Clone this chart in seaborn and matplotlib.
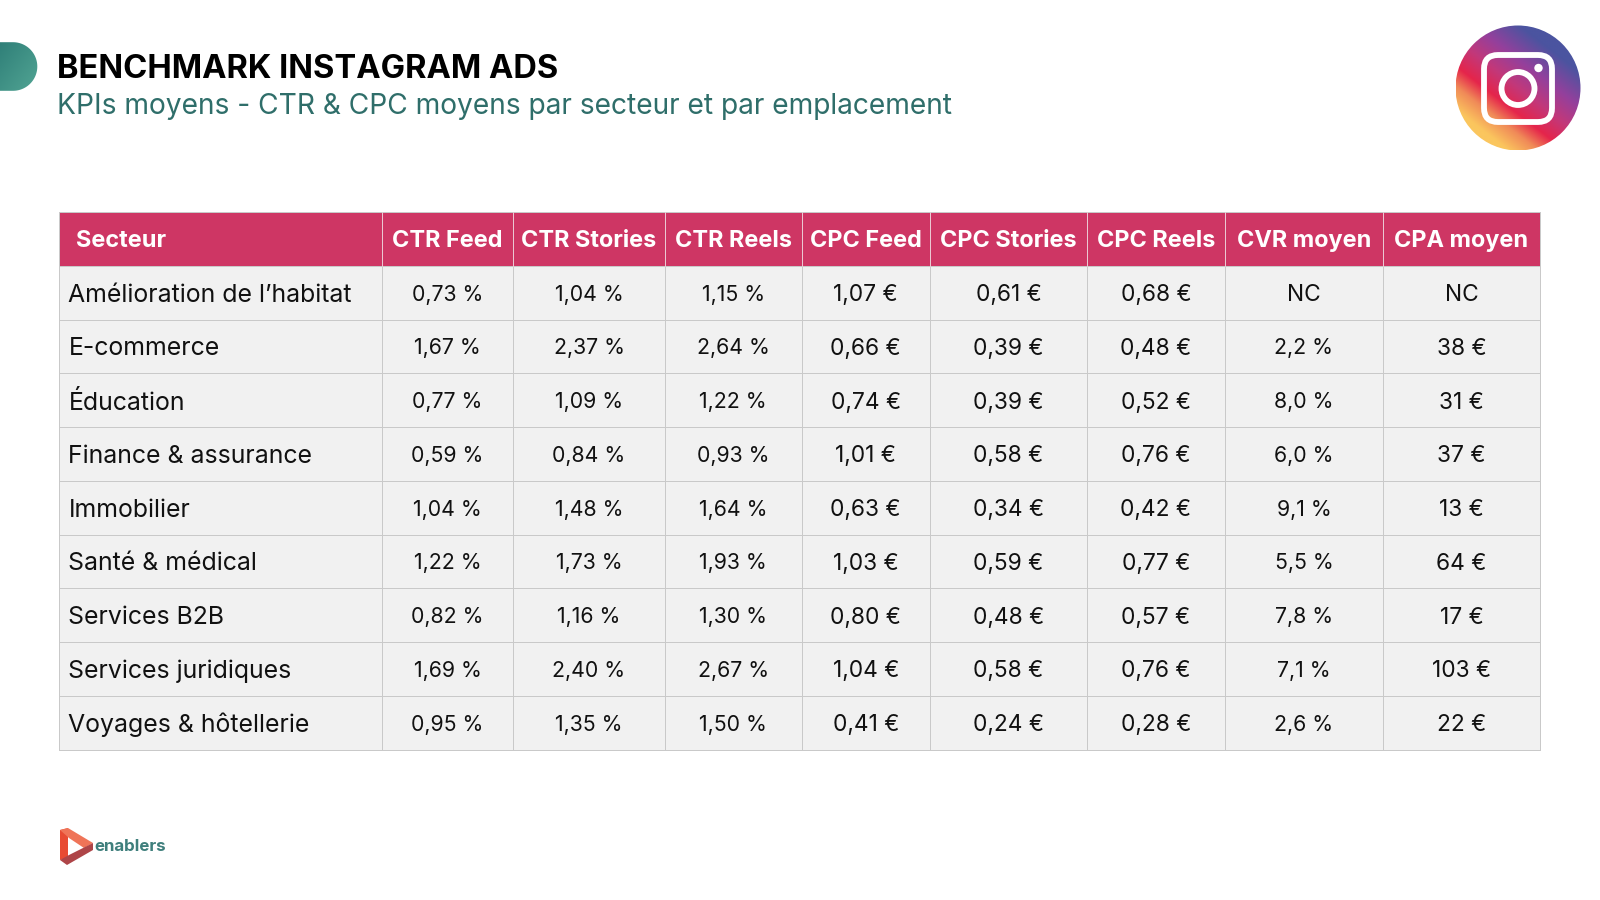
import numpy as np
import pandas as pd
import matplotlib
matplotlib.use("Agg")
import matplotlib.pyplot as plt
from matplotlib.colors import ListedColormap, LinearSegmentedColormap
from matplotlib.patches import Circle, FancyBboxPatch, Polygon
import seaborn as sns

sns.set_theme(style="white")
plt.rcParams["font.family"] = ["Inter", "DejaVu Sans"]

headers = ["Secteur", "CTR Feed", "CTR Stories", "CTR Reels", "CPC Feed",
           "CPC Stories", "CPC Reels", "CVR moyen", "CPA moyen"]
secteurs = ["Amélioration de l’habitat", "E-commerce", "Éducation", "Finance & assurance",
            "Immobilier", "Santé & médical", "Services B2B", "Services juridiques",
            "Voyages & hôtellerie"]
ctr_feed = ["0,73 %", "1,67 %", "0,77 %", "0,59 %", "1,04 %", "1,22 %", "0,82 %", "1,69 %", "0,95 %"]
ctr_stories = ["1,04 %", "2,37 %", "1,09 %", "0,84 %", "1,48 %", "1,73 %", "1,16 %", "2,40 %", "1,35 %"]
ctr_reels = ["1,15 %", "2,64 %", "1,22 %", "0,93 %", "1,64 %", "1,93 %", "1,30 %", "2,67 %", "1,50 %"]
cpc_feed = ["1,07 €", "0,66 €", "0,74 €", "1,01 €", "0,63 €", "1,03 €", "0,80 €", "1,04 €", "0,41 €"]
cpc_stories = ["0,61 €", "0,39 €", "0,39 €", "0,58 €", "0,34 €", "0,59 €", "0,48 €", "0,58 €", "0,24 €"]
cpc_reels = ["0,68 €", "0,48 €", "0,52 €", "0,76 €", "0,42 €", "0,77 €", "0,57 €", "0,76 €", "0,28 €"]
cvr = ["NC", "2,2 %", "8,0 %", "6,0 %", "9,1 %", "5,5 %", "7,8 %", "7,1 %", "2,6 %"]
cpa = ["NC", "38 €", "31 €", "37 €", "13 €", "64 €", "17 €", "103 €", "22 €"]
columns = [secteurs, ctr_feed, ctr_stories, ctr_reels, cpc_feed, cpc_stories, cpc_reels, cvr, cpa]

W, H = 1600, 900
edges = [59, 382, 513, 665, 801.5, 930, 1087, 1225, 1383, 1540]
top, bottom = 212, 749.5
fs_first, fs_pct, fs_eur, fs_head = 17.9, 15.3, 16.4, 16.9
GRID = "#C9C9C9"
LW = 0.72

fig = plt.figure(figsize=(W / 100, H / 100), dpi=100, facecolor="white")
bg = fig.add_axes([0, 0, 1, 1])
bg.set_xlim(0, W)
bg.set_ylim(H, 0)
bg.axis("off")

cmap = ListedColormap(["#F1F1F1", "#CE3664"])
n = len(secteurs) + 1
for j, (head, col) in enumerate(zip(headers, columns)):
    ax = fig.add_axes([edges[j] / W, 1 - bottom / H, (edges[j + 1] - edges[j]) / W, (bottom - top) / H])
    frame = pd.DataFrame({head: [1] + [0] * len(col)})
    labels = np.array([[head]] + [[v] for v in col])
    sns.heatmap(frame, ax=ax, cmap=cmap, vmin=0, vmax=1, cbar=False, annot=False,
                linewidths=LW, linecolor=GRID, xticklabels=False, yticklabels=False)
    ax.set_ylim(n, 0)
    for i in range(n):
        txt = labels[i, 0]
        header = i == 0
        if j == 0:
            x, ha = (17 if header else 9.5) / (edges[1] - edges[0]), "left"
        else:
            x, ha = 0.5, "center"
        if header:
            fs = fs_head
        elif j == 0:
            fs = fs_first
        else:
            fs = fs_pct if "%" in txt else fs_eur
        ax.text(x, i + 0.5, txt, ha=ha, va="center_baseline", fontsize=fs,
                fontweight="bold" if header else "normal",
                color="white" if header else "#111111")
    for name, s in ax.spines.items():
        s.set_visible(name in ("top", "bottom") or (name == "left" and j == 0)
                      or (name == "right" and j == len(headers) - 1))
        s.set_color(GRID)
        s.set_linewidth(LW)
    if j > 0:
        ax.plot([0, 0], [0, 1], color="#EBC8D2", lw=LW, clip_on=False, zorder=5)

# titles
bg.text(57, 69, "BENCHMARK INSTAGRAM ADS", fontsize=23.5, fontweight="bold", color="black", va="center")
bg.text(57, 107, "KPIs moyens - CTR & CPC moyens par secteur et par emplacement", fontsize=20.27,
        color="#2F6E6A", va="center")

# teal tab
theta = np.linspace(-np.pi / 2, np.pi / 2, 60)
cy, r = 66.5, 24.3
tab = Polygon(np.r_[[[-5, cy - r]], np.c_[13 + r * np.cos(theta), cy + r * np.sin(theta)], [[-5, cy + r]]],
              transform=bg.transData, fc="none", ec="none")
bg.add_patch(tab)
g = np.linspace(0, 1, 200)
X, Y = np.meshgrid(g, g)
im = bg.imshow(X + Y, extent=(0, 38, 91, 41), aspect="auto", zorder=2,
               cmap=LinearSegmentedColormap.from_list("t", ["#2F7F78", "#52A594"]))
im.set_clip_path(tab)

# instagram badge
disc = Circle((1518, 88), 62.5, transform=bg.transData, fc="none", ec="none")
bg.add_patch(disc)
insta = LinearSegmentedColormap.from_list(
    "i", [(0, "#FBC65E"), (0.05, "#FBC65E"), (0.2, "#F08A58"), (0.33, "#E5254B"),
          (0.5, "#C2387A"), (0.68, "#94409C"), (0.9, "#4B54A0"), (1, "#4B54A0")])
gx = np.linspace(-1, 1, 300)
DX, DY = np.meshgrid(gx, gx)
U = (0.61 * DX - 0.79 * DY + 1) / 2
im = bg.imshow(U, extent=(1455.5, 1580.5, 150.5, 25.5), cmap=insta, vmin=0, vmax=1,
               aspect="auto", zorder=2, origin="upper")
im.set_clip_path(disc)
bg.set_xlim(0, W)
bg.set_ylim(H, 0)
box = FancyBboxPatch((1484, 55), 68, 67, boxstyle="round,pad=0,rounding_size=14",
                     fc="none", ec="white", lw=4.2, zorder=3)
bg.add_patch(box)
bg.add_patch(Circle((1518, 88.5), 16.5, fc="none", ec="white", lw=4.2, zorder=3))
bg.add_patch(Circle((1538.5, 68), 4.2, fc="white", ec="none", zorder=3))

# enablers logo
bg.add_patch(Polygon([[60, 830], [68, 828], [68, 858], [60, 860]], fc="#E84B33", ec="none", zorder=3))
bg.add_patch(Polygon([[60, 830], [68, 828], [93, 843], [84, 848], [69, 838]], fc="#EF7458", ec="none", zorder=3))
bg.add_patch(Polygon([[60, 860], [67, 865], [93, 850], [93, 843], [69, 855]], fc="#AE4548", ec="none", zorder=3))
bg.text(94, 846.5, "enablers", fontsize=12.2, fontweight="bold", color="#3F7F7C", va="center")

fig.savefig("out.png", dpi=100, facecolor="white")
